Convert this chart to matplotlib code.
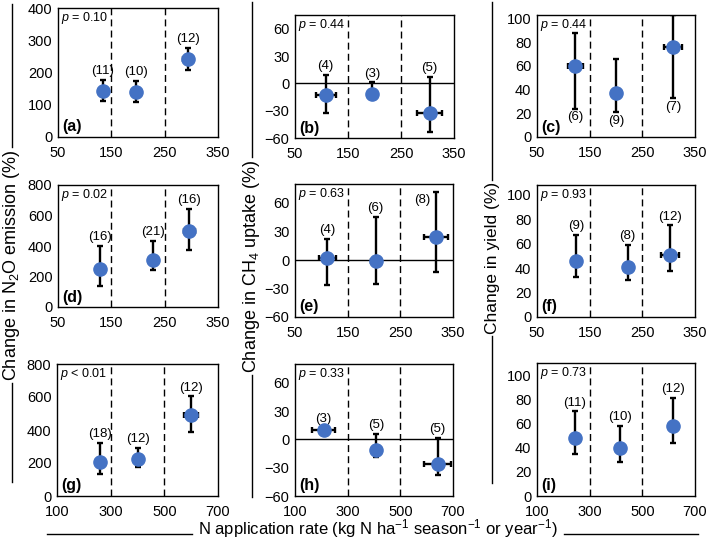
# %%
import matplotlib
matplotlib.use('Agg')
import matplotlib.pyplot as plt
from matplotlib.lines import Line2D
import numpy as np

plt.rcParams['font.family'] = ['Liberation Sans', 'DejaVu Sans']
plt.rcParams['font.size'] = 11
plt.rcParams['mathtext.fontset'] = 'custom'
plt.rcParams['mathtext.it'] = 'Liberation Sans:italic'
plt.rcParams['mathtext.rm'] = 'Liberation Sans'

W, H = 709, 544
blue = '#4472C4'

# %% data
# (a) N2O, season
a_x = [134, 197, 294]; a_xerr = [4, 4, 10]
a_y = [143, 140, 242]; a_lo = [111, 107, 209]; a_hi = [177, 174, 276]
a_n = ['(11)', '(10)', '(12)']; a_p = '$p$ = 0.10'
# (b) CH4, season
b_x = [108, 195, 304]; b_xerr = [19, 3, 24]
b_y = [-13, -12, -33]; b_lo = [-33, -16, -53]; b_hi = [9, 1, 7]
b_n = ['(4)', '(3)', '(5)']; b_p = '$p$ = 0.44'
# (c) yield, season
c_x = [123, 200, 308]; c_xerr = [15, 3, 17]
c_y = [60, 37, 76]; c_lo = [24, 21, 33]; c_hi = [88, 66, 103]
c_n = ['(6)', '(9)', '(7)']; c_p = '$p$ = 0.44'
# (d) N2O, year
d_x = [128, 228, 296]; d_xerr = [4, 4, 10]
d_y = [250, 306, 500]; d_lo = [140, 240, 376]; d_hi = [400, 434, 644]
d_n = ['(16)', '(21)', '(16)']; d_p = '$p$ = 0.02'
# (e) CH4, year
e_x = [111, 203, 318]; e_xerr = [16, 8, 23]
e_y = [2, -1, 24]; e_lo = [-26, -25, -13]; e_hi = [22, 45, 72]
e_n = ['(4)', '(6)', '(8)']; e_p = '$p$ = 0.63'
# (f) yield, year
f_x = [124, 222, 302]; f_xerr = [3, 3, 17]
f_y = [46, 41, 51]; f_lo = [33, 30, 38]; f_hi = [67, 59, 75]
f_n = ['(9)', '(8)', '(12)']; f_p = '$p$ = 0.93'
# (g) N2O, all
g_x = [260, 403, 599]; g_xerr = [5, 5, 27]
g_y = [206, 226, 491]; g_lo = [131, 178, 388]; g_hi = [323, 291, 604]
g_n = ['(18)', '(12)', '(12)']; g_p = '$p$ < 0.01'
# (h) CH4, all
h_x = [209, 407, 642]; h_xerr = [44, 5, 52]
h_y = [10, -11, -26]; h_lo = [8, -19, -38]; h_hi = [12, 6, 2]
h_n = ['(3)', '(5)', '(5)']; h_p = '$p$ = 0.33'
# (i) yield, all
i_x = [244, 415, 615]; i_xerr = [5, 5, 12]
i_y = [48, 40, 58]; i_lo = [35, 28, 44]; i_hi = [70, 58, 81]
i_n = ['(11)', '(10)', '(12)']; i_p = '$p$ = 0.73'

# %% layout
xt1 = [50, 150, 250, 350]
xt2 = [100, 300, 500, 700]
n2o = [0, 100, 200, 300, 400]
n2o2 = [0, 200, 400, 600, 800]
ch4 = [-60, -30, 0, 30, 60]
yld = [0, 20, 40, 60, 80, 100]

panels = [
    ((a_x, a_xerr, a_y, a_lo, a_hi, a_n, a_p), 'a', (58, 218, 8, 137), (50, 350), xt1, (0, 400), n2o, [150, 250], False, False),
    ((b_x, b_xerr, b_y, b_lo, b_hi, b_n, b_p), 'b', (295, 454, 15, 138), (50, 350), xt1, (-60, 75), ch4, [150, 250], True, False),
    ((c_x, c_xerr, c_y, c_lo, c_hi, c_n, c_p), 'c', (537, 695, 15, 137), (50, 350), xt1, (0, 103), yld, [150, 250], False, True),
    ((d_x, d_xerr, d_y, d_lo, d_hi, d_n, d_p), 'd', (58, 218, 185, 307), (50, 350), xt1, (0, 800), n2o2, [150, 250], False, False),
    ((e_x, e_xerr, e_y, e_lo, e_hi, e_n, e_p), 'e', (295, 453, 184, 317), (50, 350), xt1, (-60, 80), ch4, [150, 250], True, False),
    ((f_x, f_xerr, f_y, f_lo, f_hi, f_n, f_p), 'f', (537, 695, 185, 317), (50, 350), xt1, (0, 108), yld, [150, 250], False, False),
    ((g_x, g_xerr, g_y, g_lo, g_hi, g_n, g_p), 'g', (57, 218, 364, 496), (100, 700), xt2, (0, 800), n2o2, [300, 500], False, False),
    ((h_x, h_xerr, h_y, h_lo, h_hi, h_n, h_p), 'h', (295, 453, 364, 496), (100, 700), xt2, (-60, 80), ch4, [300, 500], True, False),
    ((i_x, i_xerr, i_y, i_lo, i_hi, i_n, i_p), 'i', (537, 695, 363, 496), (100, 700), xt2, (0, 110), yld, [300, 500], False, False),
]

fig = plt.figure(figsize=(W/100, H/100), dpi=100)

for (x, xerr, y, lo, hi, n, p), letter, (l, r, t, b), xlim, xticks, ylim, yticks, dash, zero, below in panels:
    ax = fig.add_axes([l/W, 1 - b/H, (r-l)/W, (b-t)/H])
    x, y, lo, hi = map(np.array, (x, y, lo, hi))
    for v in dash:
        ax.axvline(v, color='k', ls=(0, (5, 3)), lw=1)
    if zero:
        ax.axhline(0, color='k', lw=1)
    ax.errorbar(x, y, yerr=[y-lo, hi-y], xerr=xerr, fmt='o', color=blue, ms=9.5,
                ecolor='k', elinewidth=1.7, capsize=2.3, capthick=1.7, zorder=3)
    for k in range(len(x)):
        if below:
            ax.annotate(n[k], (x[k], lo[k]), xytext=(0, -2), textcoords='offset points',
                        ha='center', va='top', fontsize=9.5)
        elif letter == 'e' and k == 2:
            ax.annotate(n[k], (x[k], hi[k]), xytext=(-4, -2), textcoords='offset points',
                        ha='right', va='top', fontsize=9.5)
        else:
            ax.annotate(n[k], (x[k], hi[k]), xytext=(0, 2), textcoords='offset points',
                        ha='center', va='bottom', fontsize=9.5)
    ax.text(0.02, 0.985, p, transform=ax.transAxes, ha='left', va='top', fontsize=9)
    ax.text(0.025, 0.02, f'({letter})', transform=ax.transAxes, ha='left', va='bottom',
            fontsize=11.5, fontweight='bold')
    ax.set(xlim=xlim, ylim=ylim, xticks=xticks, yticks=yticks)
    ax.set_yticklabels([str(v).replace('-', '\u2212') for v in yticks])
    ax.tick_params(length=0, labelsize=10.5)
    ax.tick_params(axis='x', pad=6.5)
    ax.tick_params(axis='y', pad=4)
    for s in ax.spines.values():
        s.set_linewidth(1)

# outer labels, with lines running from the text out to the ends
fig.canvas.draw()
rend = fig.canvas.get_renderer()

def vlabel(txt, x, yc, y0, y1, fs):
    t = fig.text(x/W, 1-yc/H, txt, rotation=90, ha='center', va='center', fontsize=fs)
    bb = t.get_window_extent(rend)
    top, bot = H - bb.y1, H - bb.y0
    for a, c in ((y0, top - 2), (bot + 2, y1)):
        fig.add_artist(Line2D([x/W, x/W], [1-a/H, 1-c/H], color='k', lw=1))

def hlabel(txt, xc, y, x0, x1, ly):
    t = fig.text(xc/W, 1-y/H, txt, ha='center', va='center', fontsize=12)
    bb = t.get_window_extent(rend)
    for a, c in ((x0, bb.x0 - 6), (bb.x1 + 6, x1)):
        fig.add_artist(Line2D([a/W, c/W], [1-ly/H, 1-ly/H], color='k', lw=1))

vlabel('Change in N$_2$O emission (%)', 12, 265, 4, 482, 13)
vlabel('Change in CH$_4$ uptake (%)', 252, 266, 2, 497, 13)
vlabel('Change in yield (%)', 492, 258, 2, 483, 12.5)
hlabel('N application rate (kg N ha$^{\\mathregular{\u22121}}$ season$^{\\mathregular{\u22121}}$ or year$^{\\mathregular{\u22121}}$)',
       378, 529, 47, 698, 534)

fig.savefig('out.png', dpi=100)
